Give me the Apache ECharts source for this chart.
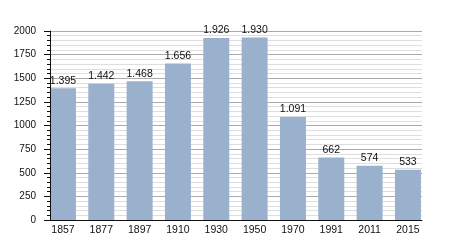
<!DOCTYPE html>
<html><head><meta charset="utf-8">
<script src="https://cdn.jsdelivr.net/npm/echarts@6/dist/echarts.min.js"></script>
<style>html,body{margin:0;padding:0;background:#fff}#c{width:450px;height:250px}</style>
</head><body><div id="c"></div>
<script>
const years = ["1857","1877","1897","1910","1930","1950","1970","1991","2011","2015"];
const population = [1395,1442,1468,1656,1926,1930,1091,662,574,533];
const yMin = 0, yMax = 2000, yStep = 250;

const FONT = '"Liberation Sans", Arial, sans-serif';
const fmt = v => { const s = String(v); return s.length > 3 ? s.slice(0, s.length-3) + '.' + s.slice(-3) : s; };

const chart = echarts.init(document.getElementById('c'), null, {renderer:'canvas'});
chart.setOption({
  animation:false,
  backgroundColor:'#fff',
  grid:[
    {left:50, top:31, width:372, height:189, containLabel:false},
    {left:43.8, top:31, width:383.3, height:189, containLabel:false}
  ],
  xAxis:[
    {gridIndex:0, type:'category', data:years, boundaryGap:true,
     axisLine:{lineStyle:{color:'#111', width:1}}, axisTick:{show:false}, axisLabel:{show:false},
     splitLine:{show:false}, z:10},
    {gridIndex:1, type:'category', data:years,
     axisLine:{show:false}, axisTick:{show:false},
     axisLabel:{color:'#111', fontFamily:FONT, fontSize:10.5, margin:5}}
  ],
  yAxis:[
    {gridIndex:0, type:'value', min:yMin, max:yMax, interval:yStep, position:'left',
     axisLine:{show:false}, axisTick:{show:false}, minorTick:{show:false}, axisLabel:{show:false},
     splitLine:{show:true, lineStyle:{color:'#aaaaaa', width:1}},
     minorSplitLine:{show:true, lineStyle:{color:'#dedede', width:1}}, z:0},
    {gridIndex:0, type:'value', min:yMin, max:yMax, interval:yStep, position:'left', offset:0,
     axisLine:{show:true, lineStyle:{color:'#111'}},
     axisTick:{show:true, length:6, lineStyle:{color:'#111'}},
     minorTick:{show:true, splitNumber:5, length:3, lineStyle:{color:'#111'}},
     axisLabel:{color:'#111', fontFamily:FONT, fontSize:10, margin:14, formatter:v => String(v)},
     splitLine:{show:false}, minorSplitLine:{show:false}, z:10},
    {gridIndex:1, type:'value', min:yMin, max:yMax, interval:yStep, show:false, splitLine:{show:false}}
  ],
  series:[{
    type:'bar', xAxisIndex:1, yAxisIndex:2, data:population, barWidth:26,
    itemStyle:{color:'#9ab1cd'},
    label:{show:true, position:'top', distance:2, color:'#111', fontFamily:FONT, fontSize:10.5,
      formatter:p => fmt(p.value)},
    z:3
  }]
});
</script></body></html>
